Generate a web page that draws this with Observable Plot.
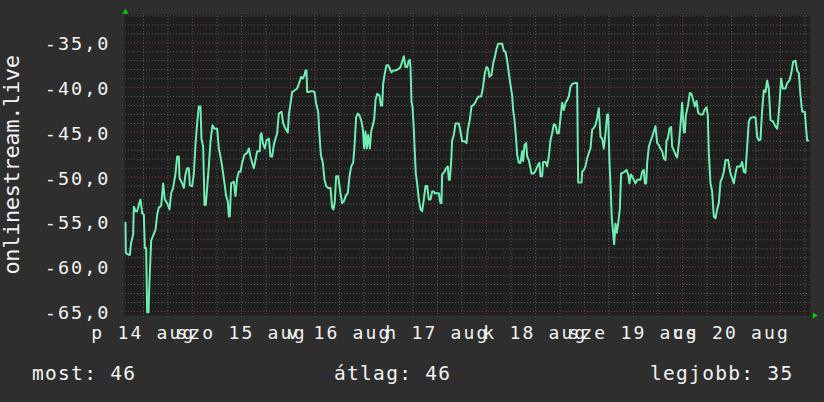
<!DOCTYPE html>
<html><head><meta charset="utf-8">
<script src="https://cdn.jsdelivr.net/npm/d3@7"></script>
<script src="https://cdn.jsdelivr.net/npm/@observablehq/plot@0.6"></script>
<style>
html,body{margin:0;padding:0;background:#2e2e2e;}
#chart{width:824px;height:402px;position:relative;overflow:hidden;font-family:"DejaVu Sans Mono",monospace;color:#f2f2f2;}
#chart svg{display:block;}
g[aria-label="y-axis tick label"] text{letter-spacing:2px;}
g[aria-label="x-axis tick label"] text{letter-spacing:2.2px;}
g[aria-label="text"] text{letter-spacing:-0.35px;}
#legend{position:relative;height:57px;font-size:19.5px;letter-spacing:1.3px;}
#legend span{position:absolute;top:18.5px;line-height:1;white-space:pre;}
</style></head><body>
<div id="chart"></div>
<script>
// hours since 14 aug 00:00
const hours = [
 7.59,7.67,8.00,8.65,8.98,9.47,9.63,10.04,10.45,10.86,11.26,11.67,12.08,12.33,12.65,12.90,13.22,13.47,13.88,14.29,14.94,15.35,15.75,16.33,16.82,17.22,17.80,18.37,18.77,19.26,19.84,20.24,20.65,20.82,21.47,21.88,22.28,22.69,23.10,23.35,23.92,24.33,24.73,25.14,25.55,25.96,26.20,26.61,26.94,27.26,27.59,28.00,28.41,28.90,29.39,30.04,30.45,30.86,31.26,31.84,32.24,32.65,32.90,33.14,33.47,34.12,34.53,34.94,35.35,35.75,36.16,36.73,37.39,37.80,38.20,38.61,39.02,39.43,39.84,40.49,40.65,
 40.90,41.23,41.72,42.12,42.70,43.10,43.51,43.92,44.33,44.74,45.14,45.80,46.21,46.78,47.35,47.59,48.00,48.41,49.06,49.63,50.04,50.61,51.02,51.43,51.67,51.92,52.08,52.49,52.90,53.47,53.88,54.29,54.78,55.10,55.43,55.92,56.33,56.74,57.23,57.80,58.20,58.53,58.86,59.18,59.67,60.00,60.25,60.65,61.06,61.63,62.04,62.45,62.86,63.35,63.67,64.08,64.49,64.90,65.39,65.71,66.04,66.37,66.69,67.02,67.43,67.76,68.16,68.49,68.82,69.23,69.80,70.12,70.45,70.69,71.10,71.51,71.92,72.33,72.74,73.14,73.71,
 74.12,74.53,74.94,75.35,75.76,76.16,76.57,76.98,77.22,77.39,77.63,77.88,78.20,78.45,78.69,79.02,79.43,79.84,80.24,80.65,81.06,81.47,81.88,82.29,82.69,83.10,83.35,84.33,84.73,84.98,85.14,85.71,86.12,86.53,86.78,87.02,87.35,87.59,88.00,88.41,89.22,89.63,90.04,90.61,91.10,91.43,91.92,92.33,92.90,93.31,93.71,94.12,94.69,95.10,95.59,96.00,96.41,96.73,97.22,97.63,98.04,98.45,98.86,99.84,100.24,100.65,101.06,101.47,101.88,102.29,102.53,102.86,103.18,103.51,103.92,104.33,104.73,104.98,105.31,105.71,105.96,106.37,106.78,
 107.02,107.59,108.00,108.65,108.98,109.22,109.63,109.88,110.45,110.86,111.26,111.67,112.08,112.49,112.90,113.31,113.71,114.12,114.53,114.94,115.35,115.76,116.16,116.57,116.98,117.63,118.20,118.45,119.27,119.43,119.84,120.24,120.65,121.06,121.47,121.88,122.29,122.69,123.10,123.51,123.92,124.33,124.73,125.14,125.55,125.80,126.12,126.45,126.69,127.02,127.27,127.59,127.92,128.24,128.65,128.98,129.80,130.29,130.69,131.02,131.35,131.67,132.08,132.49,132.90,133.71,134.12,134.53,134.78,135.10,135.35,135.76,136.16,136.57,136.98,137.39,137.80,138.20,138.61,139.02,139.43,
 139.84,140.08,140.41,140.82,141.22,141.47,141.88,142.29,142.69,143.10,143.51,143.92,144.33,144.57,144.82,145.31,145.80,146.20,146.61,147.02,147.43,147.84,148.41,148.98,149.39,149.88,150.20,150.45,150.86,151.26,151.67,152.08,152.49,152.90,153.31,153.71,154.12,154.53,155.18,155.75,156.16,156.57,156.98,157.39,158.20,158.61,159.02,159.43,159.84,160.24,160.65,161.31,161.88,162.29,162.69,163.10,163.51,163.92,164.33,164.73,165.14,165.55,166.20,166.61,167.18,167.43,167.76,168.16,168.57,169.22,169.63,170.20,170.69,171.10,171.67,172.08,172.49,172.90,173.31,173.96,174.29,174.53,174.78
];
const values = [
 -55.1,-58.4,-58.6,-58.7,-57.3,-56.4,-53.3,-53.8,-53.8,-53.1,-52.5,-54.0,-54.2,-57.9,-57.9,-65.1,-65.1,-61.6,-57.1,-56.6,-55.9,-54.2,-53.4,-53.2,-50.7,-52.5,-52.9,-53.6,-51.8,-51.2,-49.6,-47.7,-47.7,-50.1,-50.7,-51.2,-49.7,-49.0,-49.0,-50.9,-51.0,-49.6,-46.4,-44.0,-42.1,-42.1,-45.7,-46.6,-53.1,-53.1,-51.2,-48.8,-46.0,-44.2,-44.6,-44.6,-46.8,-47.7,-48.8,-50.7,-52.1,-52.7,-54.4,-54.4,-50.7,-50.5,-52.1,-50.1,-49.4,-49.4,-48.4,-47.5,-47.3,-46.8,-47.7,-48.4,-49.0,-48.1,-47.1,-47.1,-45.3,
 -45.1,-46.2,-46.8,-45.9,-45.7,-47.7,-47.7,-46.4,-45.7,-45.1,-42.9,-42.7,-44.0,-44.6,-45.0,-43.1,-41.8,-40.5,-40.3,-40.1,-39.6,-38.8,-39.0,-38.6,-38.1,-38.1,-40.5,-40.5,-40.4,-40.4,-40.5,-41.8,-42.7,-45.3,-47.5,-48.4,-50.3,-51.0,-51.2,-51.2,-53.4,-53.6,-52.7,-49.9,-49.9,-51.0,-51.8,-52.9,-52.7,-52.0,-51.8,-49.9,-48.8,-48.4,-46.6,-43.3,-42.9,-43.1,-43.8,-44.6,-46.8,-44.9,-46.8,-45.3,-46.8,-44.9,-44.2,-43.6,-41.4,-40.7,-40.9,-42.0,-42.0,-39.6,-38.4,-37.5,-37.5,-37.9,-38.3,-38.1,-38.1,
 -38.0,-37.9,-37.7,-37.1,-36.5,-37.7,-37.7,-37.0,-36.9,-37.7,-41.6,-42.1,-44.6,-47.3,-49.6,-50.7,-52.5,-53.6,-53.8,-52.5,-51.0,-51.0,-52.5,-52.5,-51.6,-51.6,-51.8,-51.8,-52.9,-52.9,-49.7,-49.4,-49.0,-48.8,-50.3,-50.3,-48.3,-45.9,-45.3,-44.0,-44.0,-44.9,-46.0,-46.0,-46.2,-44.7,-43.6,-42.1,-41.9,-41.6,-41.2,-41.0,-41.0,-40.1,-38.4,-37.7,-37.9,-38.8,-38.6,-37.3,-36.6,-35.7,-35.1,-35.1,-35.9,-36.0,-37.0,-38.4,-39.7,-40.9,-42.5,-43.6,-45.3,-47.5,-48.4,-48.4,-47.1,-48.2,-46.4,-46.2,-47.7,-48.1,-49.0,
 -49.6,-49.6,-49.3,-48.6,-48.4,-49.9,-49.9,-48.3,-48.3,-48.8,-47.7,-45.9,-45.1,-44.1,-44.2,-45.1,-45.1,-43.4,-41.7,-42.5,-41.7,-41.4,-41.0,-39.9,-39.6,-39.5,-39.5,-50.6,-50.6,-49.4,-49.2,-48.8,-47.9,-47.3,-46.8,-44.7,-44.5,-44.2,-43.4,-42.3,-45.5,-45.7,-46.8,-45.1,-43.0,-43.0,-48.3,-51.8,-54.6,-56.2,-57.5,-55.2,-56.2,-55.2,-53.6,-49.6,-49.4,-49.2,-49.7,-50.7,-49.7,-49.9,-50.3,-50.7,-50.3,-50.3,-49.4,-49.2,-50.7,-50.7,-48.4,-46.6,-46.0,-45.5,-44.9,-44.3,-46.2,-46.4,-46.8,-47.1,-47.9,
 -48.1,-45.9,-45.7,-44.6,-44.4,-46.6,-47.0,-47.5,-47.8,-46.3,-44.2,-41.7,-45.0,-45.0,-43.1,-42.1,-40.6,-40.7,-41.4,-42.1,-41.5,-42.8,-43.0,-43.0,-42.5,-42.2,-43.1,-47.3,-50.7,-51.6,-54.4,-54.6,-53.6,-52.9,-50.5,-50.1,-49.4,-48.1,-48.1,-49.6,-50.1,-50.7,-49.6,-48.8,-48.8,-48.3,-49.4,-49.5,-46.6,-43.8,-43.4,-43.3,-43.3,-45.5,-45.9,-45.8,-42.5,-40.3,-40.5,-39.2,-40.1,-43.6,-43.8,-44.2,-44.6,-43.7,-41.8,-39.0,-40.1,-40.1,-39.5,-39.2,-38.3,-37.1,-37.0,-38.1,-38.4,-40.9,-42.7,-42.7,-44.7,-45.9,-45.9
];
const dayLabels = ["p 14 aug","szo 15 aug","v 16 aug","h 17 aug","k 18 aug","sze 19 aug","cs 20 aug"];
const dayLabelHours = [12,36,60,84,108,132,156];
const dayLines = [24,48,72,96,120,144,168];
const yTicks = [-65,-60,-55,-50,-45,-40,-35];
const yTitle = "onlinestream.live";
const legendItems = ["most: 46","átlag: 46","legjobb: 35"];

const data = hours.map((h,i)=>({h, v: values[i]}));
const labelByHour = new Map(dayLabelHours.map((h,i)=>[h, dayLabels[i]]));
const xDomain = [7.35, 175.35];
const yDomain = [-65.45, -31.84];
const yMinor = d3.range(-65, -31, 1).filter(d => d % 5 !== 0);
const xMinor = d3.range(12, 175, 6).filter(d => d % 24 !== 0);

const plot = Plot.plot({
  width: 824, height: 345,
  marginLeft: 124, marginRight: 14, marginTop: 14, marginBottom: 30,
  style: {background: "transparent", color: "#f2f2f2", fontFamily: "DejaVu Sans Mono, monospace", overflow: "visible"},
  x: {domain: xDomain, axis: null, label: null},
  y: {domain: yDomain, axis: null, label: null},
  marks: [
    Plot.frame({fill: "#1f1f1f", stroke: null}),
    Plot.ruleY(yMinor, {stroke: "#5c5c5c", strokeDasharray: "1,2", insetLeft: -2, insetRight: -2}),
    Plot.ruleX(xMinor, {stroke: "#5c5c5c", strokeDasharray: "1,2", insetBottom: -3, insetTop: -1}),
    Plot.ruleY(yTicks, {stroke: "#8c3636", strokeDasharray: "1,2", insetLeft: -2, insetRight: -2}),
    Plot.ruleX(dayLines, {stroke: "#8c3636", strokeDasharray: "1,2", insetBottom: -3, insetTop: -1}),
    Plot.line(data, {x: "h", y: "v", stroke: "#70eeb2", strokeWidth: 2}),
    Plot.axisY(yTicks, {label: null, tickSize: 0, tickPadding: 14, dy: 1.5, fontSize: 18.5, tickFormat: d => d.toFixed(1).replace(".", ",")}),
    Plot.axisX(dayLabelHours, {label: null, tickSize: 0, tickPadding: 11, fontSize: 18, tickFormat: d => labelByHour.get(d)}),
    Plot.text([yTitle], {text: d => d, frameAnchor: "left", textAnchor: "middle", dx: -105.7, rotate: -90, lineAnchor: "bottom", fontSize: 22}),
    Plot.dot([0], {frameAnchor: "top-left", symbol: "triangle", r: 2.2, fill: "#00cc00", stroke: null, dx: 1, dy: -2.5}),
    Plot.dot([0], {frameAnchor: "bottom-right", symbol: "triangle", r: 2.2, fill: "#00cc00", stroke: null, dx: 4, rotate: 90})
  ]
});

const chart = document.getElementById("chart");
chart.appendChild(plot);
const legend = document.createElement("div");
legend.id = "legend";
const lefts = [32, 334, 650];
legendItems.forEach((t, i) => {
  const s = document.createElement("span");
  s.textContent = t;
  s.style.left = lefts[i] + "px";
  legend.appendChild(s);
});
chart.appendChild(legend);
</script>
</body></html>
